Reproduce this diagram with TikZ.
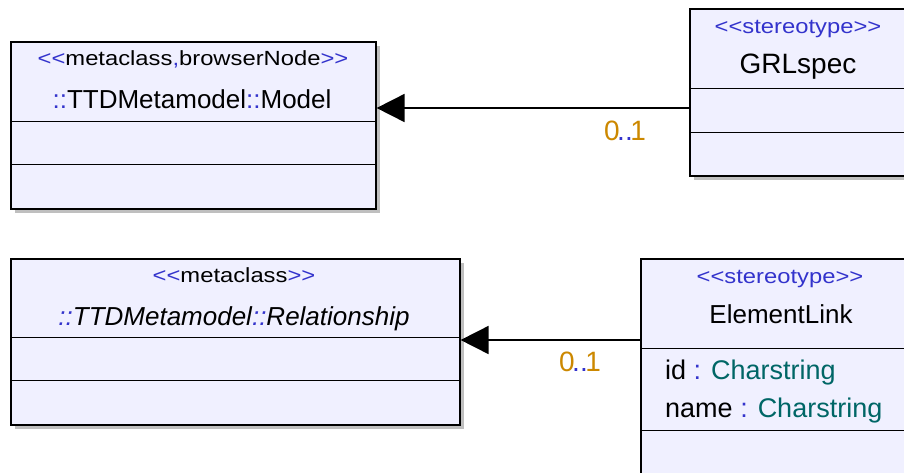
\documentclass[tikz,border=0pt]{standalone}
\usepackage{fontspec}
\usepackage{graphicx}
\setmainfont{Liberation Sans}
\usetikzlibrary{arrows.meta,shadows}
\definecolor{boxfill}{RGB}{240,240,255}
\definecolor{stblue}{RGB}{51,51,204}
\definecolor{multorange}{RGB}{204,136,0}
\definecolor{typeteal}{RGB}{0,102,102}
\newcommand{\bl}[1]{\textcolor{stblue}{#1}}
\newcommand{\lgu}{<\kern0pt<}
\newcommand{\rgu}{>\kern0pt>}
\newcommand{\wide}[1]{\scalebox{1.16}[1]{#1}}
\newcommand{\mlt}{0\kern-2.5pt\bl{..}\kern-2.5pt1}

\begin{document}
\begin{tikzpicture}[x=1pt,y=1pt,yscale=-1,
  classbox/.style={draw=black,line width=1.6pt,fill=boxfill,anchor=north west,inner sep=0pt,
    drop shadow={shadow xshift=4pt,shadow yshift=-4pt,fill=black!25,opacity=1}},
  divider/.style={line width=0.8pt},
  stereo/.style={font=\fontsize{20.5}{24}\selectfont,inner sep=0pt,anchor=base},
  cname/.style={font=\fontsize{26}{30}\selectfont,inner sep=0pt,anchor=base},
  attr/.style={font=\fontsize{27}{31}\selectfont,inner sep=0pt,anchor=base west},
  mult/.style={font=\fontsize{28}{32}\selectfont,text=multorange,inner sep=0pt,anchor=base},
  assoc/.style={line width=1.8pt,-{Triangle[length=28pt,width=28pt]}}]
\useasboundingbox (0,0) rectangle (904,472);
\clip (0,0) rectangle (904,472);

% Class boxes
\node[classbox,minimum width=365pt,minimum height=167pt] (model) at (10,41) {};
\node[classbox,minimum width=218pt,minimum height=167pt] (grl) at (689,8) {};
\node[classbox,minimum width=449pt,minimum height=166pt] (rel) at (10,258) {};
\node[classbox,minimum width=280pt,minimum height=240pt] (elink) at (640,258) {};

% Compartments
\draw[divider] (10,121) -- (375,121);
\draw[divider] (10,164) -- (375,164);
\draw[divider] (689,88) -- (907,88);
\draw[divider] (689,132) -- (907,132);
\draw[divider] (10,337) -- (459,337);
\draw[divider] (10,380) -- (459,380);
\draw[divider] (640,348) -- (920,348);
\draw[divider] (640,430) -- (920,430);

% Text Node
\node[stereo] (modelst) at (193,65) {\wide{\bl{\lgu}metaclass\bl{,}browserNode\bl{\rgu}}};
\node[cname] (modelnm) at (192,108) {\bl{::}TTDMetamodel\bl{::}Model};
% Text Node
\node[stereo,text=stblue] (grlst) at (798,33) {\wide{\lgu stereotype\rgu}};
\node[cname,font=\fontsize{28}{32}\selectfont] (grlnm) at (798,73) {GRLspec};
% Text Node
\node[stereo] (relst) at (234,282) {\wide{\bl{\lgu}metaclass\bl{\rgu}}};
\node[cname,font=\fontsize{26}{30}\selectfont\itshape] (relnm) at (234,325) {\bl{::}TTDMetamodel\bl{::}Relationship};
% Text Node
\node[stereo,text=stblue] (elst) at (780,283) {\wide{\lgu stereotype\rgu}};
\node[cname] (elnm) at (781,323) {ElementLink};
\node[attr] (elid) at (665,379) {id \bl{:} \textcolor{typeteal}{Charstring}};
\node[attr] (elname) at (665,417) {name \bl{:} \textcolor{typeteal}{Charstring}};

% Associations
\draw[assoc] (grl.west |- 0,108) -- (model.east |- 0,108);
\node[mult] (grlmult) at (625,140) {\mlt};
\draw[assoc] (elink.west |- 0,340) -- (rel.east |- 0,340);
\node[mult] (elmult) at (580,371) {\mlt};

\end{tikzpicture}
\end{document}
